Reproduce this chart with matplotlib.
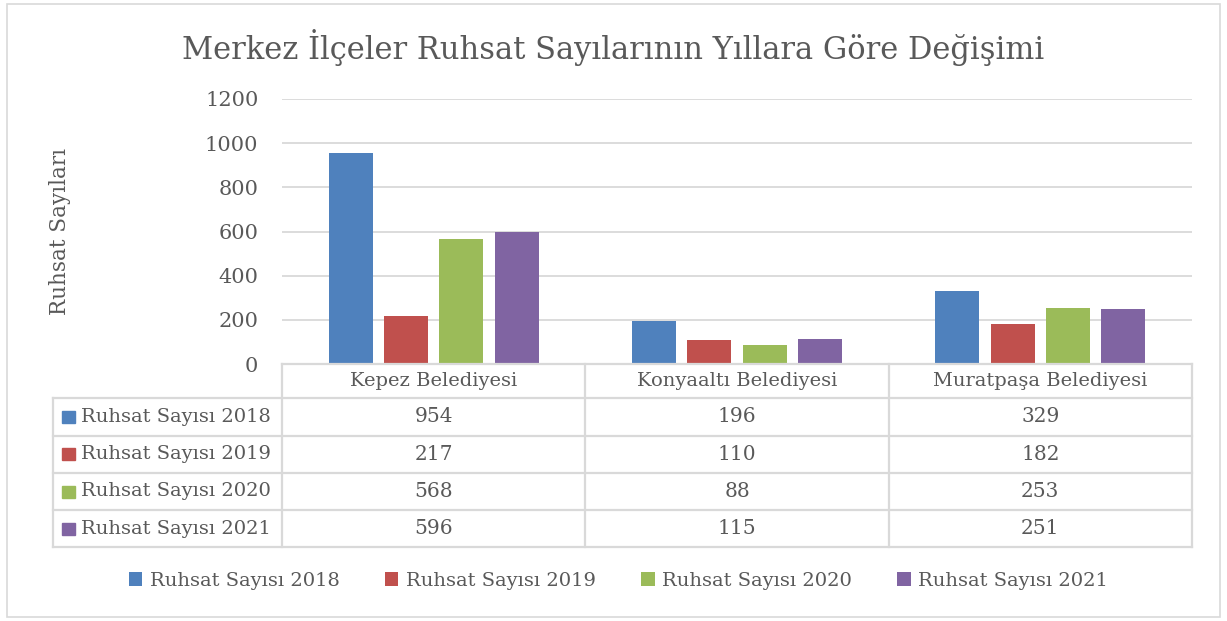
import numpy as np
import matplotlib.pyplot as plt
from matplotlib.patches import Rectangle

# --- veri ---
belediyeler = ["Kepez Belediyesi", "Konyaaltı Belediyesi", "Muratpaşa Belediyesi"]
seriler = ["Ruhsat Sayısı 2018", "Ruhsat Sayısı 2019", "Ruhsat Sayısı 2020", "Ruhsat Sayısı 2021"]
r2018 = [954, 196, 329]
r2019 = [217, 110, 182]
r2020 = [568, 88, 253]
r2021 = [596, 115, 251]
yticks = [0, 200, 400, 600, 800, 1000, 1200]

degerler = [r2018, r2019, r2020, r2021]
renkler = ["#4f81bd", "#c0504d", "#9bbb59", "#8064a2"]
yazi = "#595959"
cizgi = "#d9d9d9"

plt.rcParams["font.family"] = ["DejaVu Serif"]

W, H = 1227, 621
fig = plt.figure(figsize=(W / 100, H / 100), dpi=100)


def px(x0, y0, x1, y1):
    """piksel kutusunu figure koordinatına çevir"""
    return [x0 / W, 1 - y1 / H, (x1 - x0) / W, (y1 - y0) / H]


# dış çerçeve
fig.patches.append(Rectangle((7 / W, 4 / H), 1213 / W, 613 / H, transform=fig.transFigure,
                             fill=False, edgecolor=cizgi, lw=1.2))

fig.text(0.5, 1 - 47 / H, "Merkez İlçeler Ruhsat Sayılarının Yıllara Göre Değişimi",
         ha="center", va="center", fontsize=22, color=yazi)

# --- ana grafik ---
ax = fig.add_axes(px(282, 99, 1192, 364))
x = np.arange(len(belediyeler)) + 0.5
w = 0.145
step = 0.1825
for i, (vals, c) in enumerate(zip(degerler, renkler)):
    ax.bar(x + (i - 1.5) * step, vals, width=w, color=c, label=seriler[i], zorder=3)

ax.set_xlim(0, 3)
ax.set_ylim(0, 1200)
ax.set_yticks(yticks)
ax.set_xticks([])
ax.grid(axis="y", color=cizgi, lw=1.3, zorder=0)
for s in ax.spines.values():
    s.set_visible(False)
ax.tick_params(axis="y", length=0, pad=17, labelsize=15, labelcolor=yazi)
ax.set_ylabel("Ruhsat Sayıları", fontsize=15.5, color=yazi)
ax.yaxis.set_label_coords(-211 / 910, 0.5)

# --- veri tablosu ---
tx0 = -229 / (910 / 3)
tax = fig.add_axes(px(53, 364, 1192, 547))
tax.set_xlim(tx0, 3)
tax.set_ylim(183, 0)
tax.axis("off")

satirlar = [0, 34, 71.5, 109, 146, 183]
kw = dict(color=cizgi, lw=1.6, clip_on=False)
tax.plot([0, 3], [0, 0], **kw)
for yy in satirlar[1:]:
    tax.plot([tx0, 3], [yy, yy], **kw)
for xx in [0, 1, 2, 3]:
    tax.plot([xx, xx], [0, 183], **kw)
tax.plot([tx0, tx0], [34, 183], **kw)

for j, b in enumerate(belediyeler):
    tax.text(j + 0.5, 17, b, ha="center", va="center", fontsize=14, color=yazi)

for i, (vals, c) in enumerate(zip(degerler, renkler)):
    yc = (satirlar[i + 1] + satirlar[i + 2]) / 2
    tax.add_patch(Rectangle((tx0 + 9 / 303.3, yc - 6), 13 / 303.3, 12, color=c, clip_on=False))
    tax.text(tx0 + 28 / 303.3, yc, seriler[i], ha="left", va="center", fontsize=14, color=yazi)
    for j, v in enumerate(vals):
        tax.text(j + 0.5, yc, str(v), ha="center", va="center", fontsize=14.5, color=yazi)

# --- alt lejant ---
h, l = ax.get_legend_handles_labels()
fig.legend(h, l, loc="center", bbox_to_anchor=(0.5 + 5 / W, 1 - 581 / H), ncol=4, frameon=False,
           fontsize=14, labelcolor=yazi, handlelength=0.7, handleheight=0.7,
           handletextpad=0.4, columnspacing=2.3)

fig.savefig("out.png", dpi=100)
